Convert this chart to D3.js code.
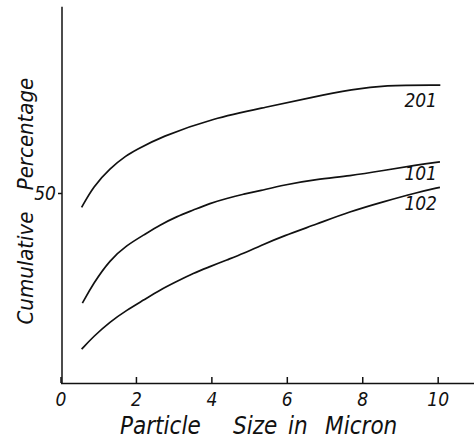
<!DOCTYPE html>
<html lang="en">
<head>
<meta charset="UTF-8">
<title>Cumulative Percentage vs Particle Size</title>
<script src="https://d3js.org/d3.v7.min.js"></script>
<style>
    body {margin: 0; background: white;}
    text {font-family: "Liberation Sans Narrow", "DejaVu Sans Condensed", sans-serif; font-style: italic; fill: #111;}
    .curve {fill: none; stroke: #111; stroke-width: 1.7;}
    .axis path, .axis line {stroke: #111; stroke-width: 1.5;}
</style>
</head>
<body>
<svg width="474" height="439"></svg>
<script>
// particle size (micron) and cumulative percentage
const size201 = [0.56, 0.87, 1.31, 1.76, 2.0, 2.64, 4.05, 5.47, 6.7, 7.76, 8.55, 10.07];
const pct201  = [46.2, 51.7, 56.5, 60, 61.3, 64.7, 69.7, 72.6, 75.3, 77.3, 78.4, 78.4];

const size101 = [0.58, 0.87, 1.31, 1.76, 2.2, 2.64, 3.08, 3.52, 3.96, 4.41, 4.85, 5.29, 5.91, 6.79, 7.67, 8.56, 9.44, 10.06];
const pct101  = [21, 26.2, 32.4, 36.3, 38.9, 41.6, 43.8, 45.5, 47.3, 48.6, 49.7, 50.6, 52.1, 53.6, 54.5, 55.9, 57.4, 58.2];

const size102 = [0.56, 0.87, 1.31, 1.76, 2.2, 2.64, 3.08, 3.52, 3.96, 4.41, 4.85, 5.29, 5.91, 6.79, 7.67, 8.56, 9.44, 10.06];
const pct102  = [8.9, 12.2, 16.1, 19.2, 21.8, 24.5, 26.7, 28.9, 30.6, 32.4, 34.1, 36.1, 38.7, 41.8, 45.1, 47.7, 50.1, 51.5];

const seriesNames = ["201", "101", "102"];
const xTicks = [0, 2, 4, 6, 8, 10];
const yTicks = [50];

var svg = d3.select("svg");

var x = d3.scaleLinear().domain([0, 11]).range([60.5, 475.4]);
var y = d3.scaleLinear().domain([0, 99]).range([383, 6.8]);

var line = d3.line()
    .x(d => x(d[0]))
    .y(d => y(d[1]))
    .curve(d3.curveBasis);

var series = [
    d3.zip(size201, pct201),
    d3.zip(size101, pct101),
    d3.zip(size102, pct102)
];

svg.selectAll("path.curve").data(series)
    .enter().append("path")
    .attr("class", "curve")
    .attr("d", line);

// series labels just under the right end of each curve
var labelDy = [22, 18, 23];
svg.selectAll("text.lab").data(series)
    .enter().append("text")
    .attr("class", "lab")
    .attr("x", 437)
    .attr("y", (d, i) => y(d[d.length - 1][1]) + labelDy[i])
    .attr("text-anchor", "end")
    .style("font-size", "19px")
    .text((d, i) => seriesNames[i]);

// x axis, ticks pointing up
var gx = svg.append("g").attr("class", "axis")
    .attr("transform", "translate(0,383)")
    .call(d3.axisBottom(x).tickValues(xTicks).tickSize(-6).tickSizeOuter(0).tickPadding(10));
gx.selectAll("text").style("font-size", "19px").attr("fill", "#111");

// y axis
var gy = svg.append("g").attr("class", "axis")
    .attr("transform", "translate(62,0)")
    .call(d3.axisLeft(y).tickValues(yTicks).tickSize(4).tickSizeOuter(0).tickPadding(2));
gy.select(".domain").attr("d", "M0," + y(99) + "V" + y(0));
gy.selectAll("text").style("font-size", "19px").attr("fill", "#111");

// axis titles
var xTitle = [["Particle", 120], ["Size", 233], ["in", 288], ["Micron", 325]];
svg.selectAll("text.xt").data(xTitle)
    .enter().append("text")
    .attr("class", "xt")
    .attr("x", d => d[1])
    .attr("y", 434)
    .style("font-size", "24px")
    .text(d => d[0]);

var yTitle = [["Percentage", 134], ["Cumulative", 268]];
svg.selectAll("text.yt").data(yTitle)
    .enter().append("text")
    .attr("class", "yt")
    .attr("transform", d => "translate(33," + d[1] + ") rotate(-90)")
    .attr("text-anchor", "middle")
    .style("font-size", "22px")
    .text(d => d[0]);
</script>
</body>
</html>
